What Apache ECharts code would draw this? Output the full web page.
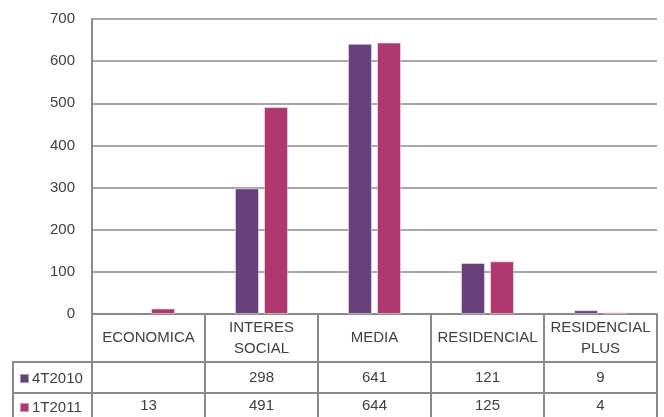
<!DOCTYPE html>
<html>
<head>
<meta charset="utf-8">
<style>
  html, body { margin: 0; padding: 0; background: #fff; }
  #chart { width: 664px; height: 417px; }
</style>
<script src="https://cdn.jsdelivr.net/npm/echarts@6/dist/echarts.min.js"></script>
</head>
<body>
<div id="chart"></div>
<script>
const categories = ['ECONOMICA', 'INTERES\nSOCIAL', 'MEDIA', 'RESIDENCIAL', 'RESIDENCIAL\nPLUS']
const seriesNames = ['4T2010', '1T2011']
const values4T2010 = [null, 298, 641, 121, 9]
const values1T2011 = [13, 491, 644, 125, 4]
const yTicks = { min: 0, max: 700, interval: 100 }

const colors = ['#68407c', '#b0386e']
const lineGray = '#8a8a8a'
const textColor = '#404040'
const font = 'Liberation Sans'
const fontSize = 15

const tableRow = (offset, rowValues, tickLen, margin) => ({
  type: 'category',
  data: categories,
  position: 'bottom',
  offset: offset,
  axisLine: { show: true, lineStyle: { color: lineGray, width: 2 } },
  axisTick: { show: true, interval: 0, length: tickLen, lineStyle: { color: lineGray, width: 2 } },
  axisLabel: {
    interval: 0,
    margin: margin,
    verticalAlign: 'middle',
    color: textColor,
    fontFamily: font,
    fontSize: fontSize,
    formatter: (v, i) => (rowValues[i] == null ? '' : String(rowValues[i]))
  },
  splitLine: { show: false }
})

const chart = echarts.init(document.getElementById('chart'), null, { renderer: 'canvas' })

const option = {
  animation: false,
  color: colors,
  grid: { left: 92, right: 7, top: 19, bottom: 103, containLabel: false },
  legend: {
    orient: 'vertical',
    left: 19,
    top: 371,
    padding: 0,
    itemGap: 14,
    itemWidth: 9,
    itemHeight: 9,
    icon: 'rect',
    data: seriesNames,
    textStyle: { color: textColor, fontFamily: font, fontSize: fontSize, lineHeight: 14, padding: [0, 0, 0, -2] }
  },
  xAxis: [
    {
      type: 'category',
      data: categories,
      position: 'bottom',
      axisLine: { show: true, lineStyle: { color: lineGray, width: 2 } },
      axisTick: { show: true, interval: 0, length: 48, lineStyle: { color: lineGray, width: 2 } },
      axisLabel: {
        interval: 0,
        margin: 24,
        verticalAlign: 'middle',
        align: 'center',
        lineHeight: 21,
        color: textColor,
        fontFamily: font,
        fontSize: fontSize
      }
    },
    tableRow(48, values4T2010, 31, 15.5),
    tableRow(79, values1T2011, 30, 13)
  ],
  yAxis: {
    type: 'value',
    min: yTicks.min,
    max: yTicks.max,
    interval: yTicks.interval,
    axisLine: { show: true, lineStyle: { color: lineGray, width: 2 } },
    axisTick: { show: false },
    axisLabel: { margin: 17, color: textColor, fontFamily: font, fontSize: fontSize },
    splitLine: { show: true, lineStyle: { color: '#8a8a8a', width: 1.5 } }
  },
  graphic: [
    { type: 'line', shape: { x1: 13, y1: 362, x2: 92, y2: 362 }, style: { stroke: lineGray, lineWidth: 2 } },
    { type: 'line', shape: { x1: 13, y1: 393, x2: 92, y2: 393 }, style: { stroke: lineGray, lineWidth: 2 } },
    { type: 'line', shape: { x1: 13, y1: 361, x2: 13, y2: 417 }, style: { stroke: lineGray, lineWidth: 2 } }
  ],
  series: [
    {
      name: seriesNames[0],
      type: 'bar',
      data: values4T2010,
      barWidth: 24,
      barGap: '21%',
      itemStyle: { borderColor: 'rgba(255,255,255,0.45)', borderWidth: 1 }
    },
    {
      name: seriesNames[1],
      type: 'bar',
      data: values1T2011,
      barWidth: 24,
      barGap: '21%',
      itemStyle: { borderColor: 'rgba(255,255,255,0.45)', borderWidth: 1 }
    }
  ]
}

chart.setOption(option)
</script>
</body>
</html>
